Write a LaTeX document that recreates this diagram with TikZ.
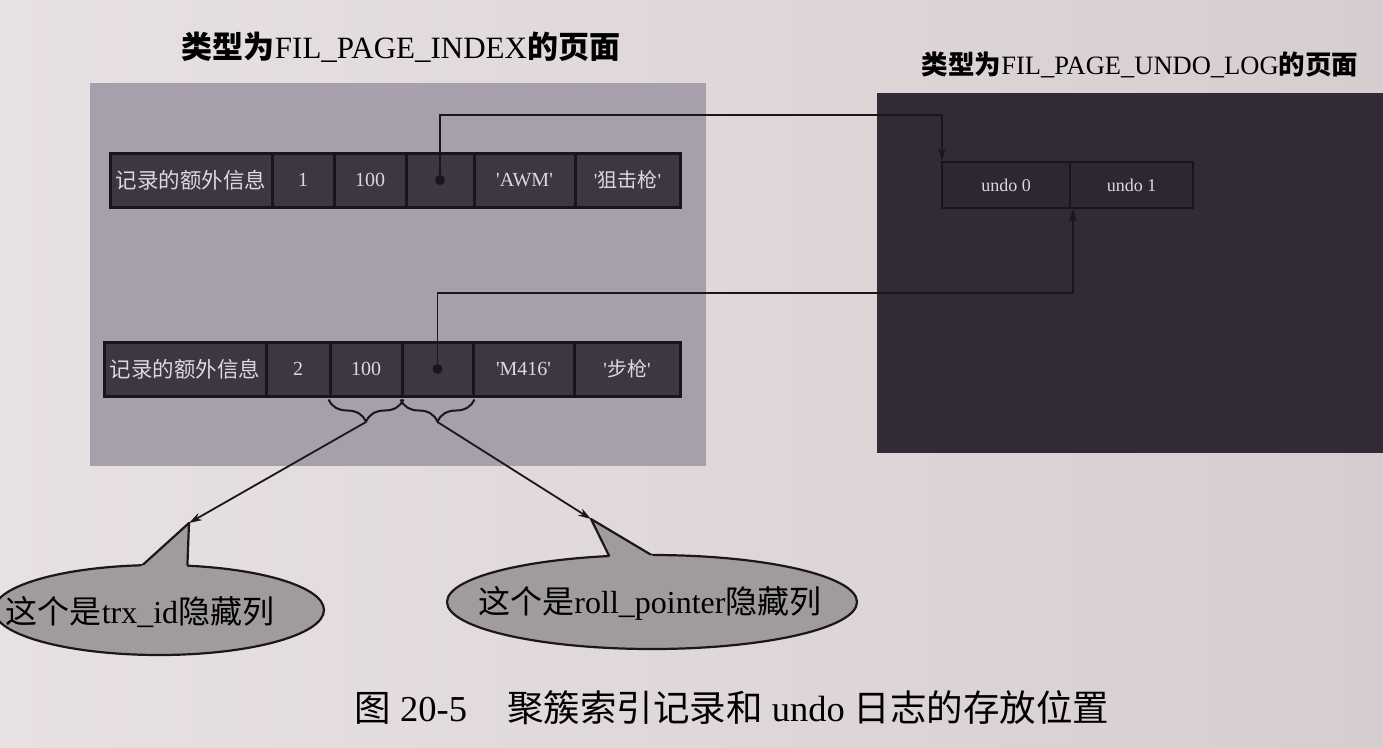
\documentclass[tikz,border=0pt]{standalone}
\usepackage{fontspec}
\setmainfont{Liberation Serif}
\newfontfamily\cjk{Noto Sans CJK SC}
\usetikzlibrary{arrows.meta,shapes.geometric,decorations.pathreplacing}

\definecolor{paperL}{RGB}{232,225,227}
\definecolor{paperR}{RGB}{214,205,209}
\definecolor{indexpage}{RGB}{167,159,172}
\definecolor{undopage}{RGB}{50,42,55}
\definecolor{cellfill}{RGB}{62,54,64}
\definecolor{cellline}{RGB}{26,21,28}
\definecolor{celltext}{RGB}{222,216,222}
\definecolor{undofill}{RGB}{46,39,50}
\definecolor{inkline}{RGB}{28,22,28}
\definecolor{bubble}{RGB}{160,156,157}

\newcommand\sq{\textquotesingle}

\begin{document}
\begin{tikzpicture}[x=1pt,y=-1pt,
  cell/.style={draw=cellline, fill=cellfill, line width=3pt,
    minimum height=54pt, inner sep=0pt, text=celltext,
    font=\fontsize{20}{24}\selectfont},
  cjkcell/.style={cell, font=\fontsize{21.5}{24}\selectfont\cjk},
  undocell/.style={draw=cellline, fill=undofill, line width=2pt,
    minimum height=46pt, inner sep=0pt, text=celltext,
    font=\fontsize{18}{22}\selectfont},
  conn/.style={draw=inkline, line width=1.8pt,
    -{Stealth[length=13pt,width=8pt]}},
  bracestyle/.style={draw=inkline, line width=2pt, decorate,
    decoration={brace, mirror, amplitude=22pt}},
  bubbleshape/.style={ellipse, draw=inkline, fill=bubble,
    line width=2.2pt, inner sep=0pt},
  bubbleside/.style={draw=inkline, line width=2.2pt, line join=round},
  bubbletext/.style={font=\fontsize{32}{36}\selectfont, inner sep=0pt},
]
\useasboundingbox (0,0) rectangle (1383,747);
\clip (0,0) rectangle (1383,747);

% paper
\shade[left color=paperL, right color=paperR] (0,0) rectangle (1383,747);

% the two pages
\fill[indexpage] (90,83) rectangle (706,466);
\fill[undopage] (877,93) rectangle (1390,453);

% page titles
\node[font=\fontsize{31}{36}\selectfont] (titleL) at (401,47)
  {{\cjk\bfseries 类型为}FIL\_PAGE\_INDEX{\cjk\bfseries 的页面}};
\node[font=\fontsize{26.5}{32}\selectfont] (titleR) at (1140,65)
  {{\cjk\bfseries 类型为}FIL\_PAGE\_UNDO\_LOG{\cjk\bfseries 的页面}};

% first clustered index record
\node[cjkcell, minimum width=162pt] (r1a) at (191,180) {记录的额外信息};
\node[cell, minimum width=62pt]  (r1b) at (303,180) {1};
\node[cell, minimum width=72pt]  (r1c) at (370,180) {100};
\node[cell, minimum width=68pt]  (r1d) at (440,180) {};
\node[cell, minimum width=101pt] (r1e) at (524.5,180) {\sq AWM\sq};
\node[cell, minimum width=105pt] (r1f) at (627.5,180) {\sq{\cjk 狙击枪}\sq};

% second clustered index record
\node[cjkcell, minimum width=162pt] (r2a) at (185,369) {记录的额外信息};
\node[cell, minimum width=64pt]  (r2b) at (298,369) {2};
\node[cell, minimum width=72pt]  (r2c) at (366,369) {100};
\node[cell, minimum width=71pt]  (r2d) at (437.5,369) {};
\node[cell, minimum width=101pt] (r2e) at (523.5,369) {\sq M416\sq};
\node[cell, minimum width=106pt] (r2f) at (627,369) {\sq{\cjk 步枪}\sq};

% undo log records
\node[undocell, minimum width=128pt] (u0) at (1006,185) {undo 0};
\node[undocell, minimum width=123pt] (u1) at (1131.5,185) {undo 1};

% roll pointers
\fill[inkline] (r1d.center) circle (5pt);
\fill[inkline] (r2d.center) circle (5pt);
\coordinate (k1) at (942,115);
\coordinate (k2) at (1073,293);
\draw[conn] (r1d.center) |- (k1) -- (k1 |- u0.north);
\draw[conn] (r2d.center) |- (k2) -- (k2 |- u0.south);

% braces under trx_id and roll_pointer
\draw[bracestyle] ([yshift=-2pt]r2c.south west) -- ([yshift=-2pt]r2c.south east);
\draw[bracestyle] ([yshift=-2pt]r2d.south west) -- ([yshift=-2pt]r2d.south east);
\coordinate (t1) at (366,422);
\coordinate (t2) at (437.5,422);

% speech bubbles: ellipse body, then the pointer merged into it
\node[bubbleshape, minimum width=330pt, minimum height=90pt] (c1) at (159,610) {};
\node[bubbleshape, minimum width=410pt, minimum height=94pt] (c2) at (652,602) {};
\coordinate (p1) at (189,523);
\coordinate (p2) at (591,519);
\coordinate (p1l) at (115,590);
\coordinate (p1r) at (186.5,590);
\coordinate (p2l) at (619,576);
\coordinate (p2r) at (690,578);
\fill[bubble] (p1) -- (p1l) -- (p1r) -- cycle;
\fill[bubble] (p2) -- (p2l) -- (p2r) -- cycle;
\begin{scope}[even odd rule]
  \clip (-20,-20) rectangle (1400,760)
    (c1.center) ellipse (165 and 45)
    (c2.center) ellipse (205 and 47);
  \draw[bubbleside] (p1l) -- (p1) -- (p1r);
  \draw[bubbleside] (p2l) -- (p2) -- (p2r);
\end{scope}
\node[bubbletext] (c1text) at (140,612) {{\cjk 这个是}trx\_id{\cjk 隐藏列}};
\node[bubbletext] (c2text) at (650,603) {{\cjk 这个是}roll\_pointer{\cjk 隐藏列}};

% pointers from the hidden columns to their bubbles
\draw[conn] (t1) -- (p1);
\draw[conn] (t2) -- (p2);

% caption
\node[font=\fontsize{36.5}{40}\selectfont] (caption) at (732,708)
  {{\cjk 图} 20-5\hspace{40pt}{\cjk 聚簇索引记录和} undo {\cjk 日志的存放位置}};
\end{tikzpicture}
\end{document}
